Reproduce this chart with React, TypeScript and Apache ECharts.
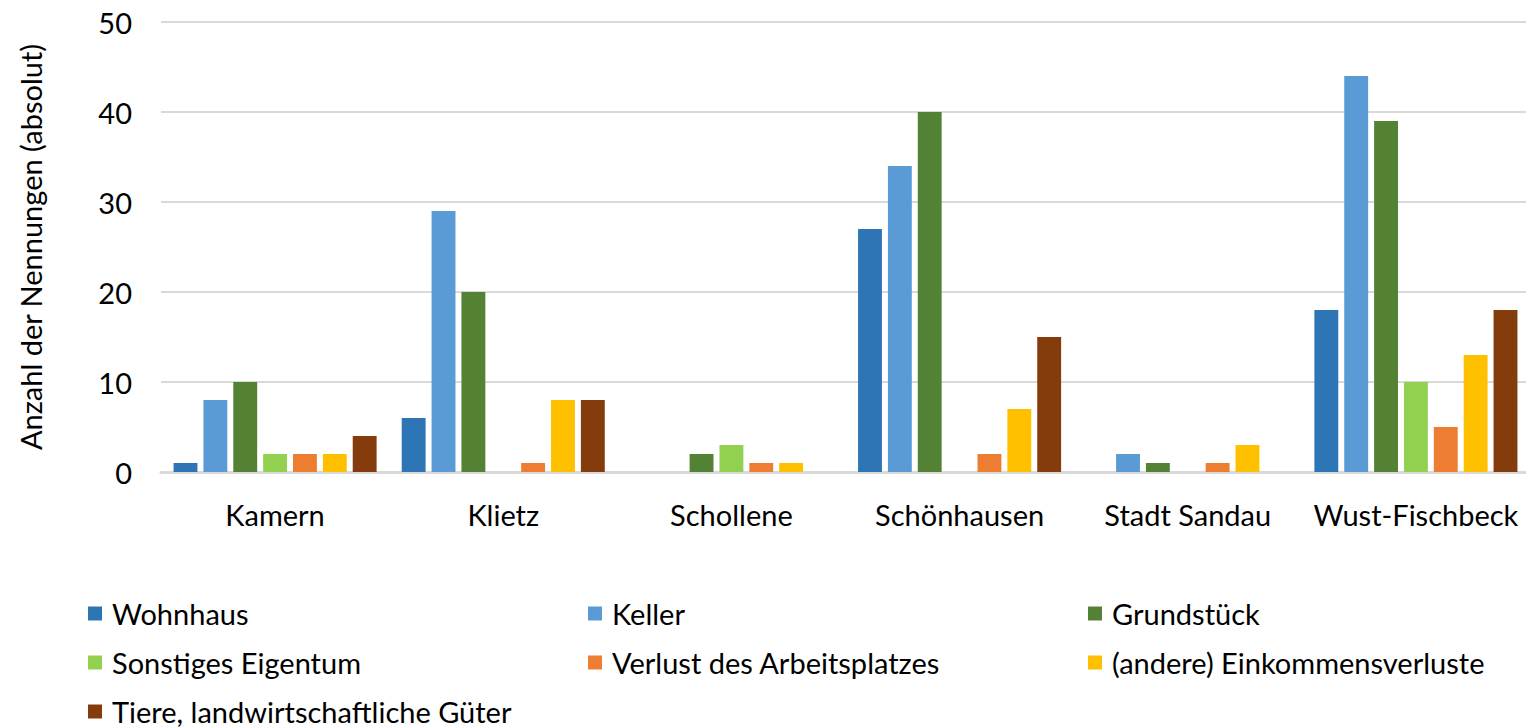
import React, { useEffect, useRef } from "react";
import * as echarts from "echarts";

const categories = ["Kamern", "Klietz", "Schollene", "Schönhausen", "Stadt Sandau", "Wust-Fischbeck"];
const seriesNames = [
  "Wohnhaus",
  "Keller",
  "Grundstück",
  "Sonstiges Eigentum",
  "Verlust des Arbeitsplatzes",
  "(andere) Einkommensverluste",
  "Tiere, landwirtschaftliche Güter",
];
const colors = ["#2E75B6", "#5B9BD5", "#548235", "#92D050", "#ED7D31", "#FFC000", "#843C0C"];
const wohnhaus = [1, 6, 0, 27, 0, 18];
const keller = [8, 29, 0, 34, 2, 44];
const grundstueck = [10, 20, 2, 40, 1, 39];
const sonstiges = [2, 0, 3, 0, 0, 10];
const arbeitsplatz = [2, 1, 1, 2, 1, 5];
const einkommen = [2, 8, 1, 7, 3, 13];
const tiere = [4, 8, 0, 15, 0, 18];
const values = [wohnhaus, keller, grundstueck, sonstiges, arbeitsplatz, einkommen, tiere];

const FONT = "Lato";

export default function App() {
  const ref = useRef<HTMLDivElement>(null);
  useEffect(() => {
    const chart = echarts.init(ref.current!, null, { renderer: "svg" });
    const legendBase = {
      orient: "vertical",
      top: 599,
      height: 140,
      padding: 0,
      itemGap: 20,
      itemWidth: 14,
      itemHeight: 14,
      icon: "rect",
      textStyle: { fontFamily: FONT, fontSize: 29, lineHeight: 28, color: "#000", padding: [0, 0, 0, 5] },
      selectedMode: false,
    };
    chart.setOption({
      animation: false,
      color: colors,
      grid: { left: 145, right: 0, top: 22, bottom: 256, containLabel: false },
      legend: [
        { ...legendBase, left: 80, data: [seriesNames[0], seriesNames[3], seriesNames[6]] },
        { ...legendBase, left: 580, data: [seriesNames[1], seriesNames[4]] },
        { ...legendBase, left: 1080, data: [seriesNames[2], seriesNames[5]] },
      ],
      xAxis: {
        type: "category",
        data: categories,
        axisLine: { lineStyle: { color: "#D9D9D9", width: 3 } },
        axisTick: { show: false },
        axisLabel: { fontFamily: FONT, fontSize: 29, color: "#000", margin: 28, interval: 0 },
      },
      yAxis: {
        type: "value",
        min: 0,
        max: 50,
        interval: 10,
        name: "Anzahl der Nennungen (absolut)",
        nameLocation: "middle",
        nameGap: 116,
        nameTextStyle: { fontFamily: FONT, fontSize: 29, color: "#000" },
        axisLine: { show: false },
        axisTick: { show: false },
        splitLine: { lineStyle: { color: "#D9D9D9", width: 2 } },
        axisLabel: { fontFamily: FONT, fontSize: 29, lineHeight: 26, color: "#000", margin: 29 },
      },
      series: seriesNames.map((name, i) => ({
        name,
        type: "bar",
        data: values[i],
        barGap: "25%",
        barCategoryGap: "11%",
        itemStyle: { color: colors[i] },
      })),
    });
    return () => chart.dispose();
  }, []);
  return <div ref={ref} style={{ width: 1522, height: 728, marginTop: -8 }} />;
}
